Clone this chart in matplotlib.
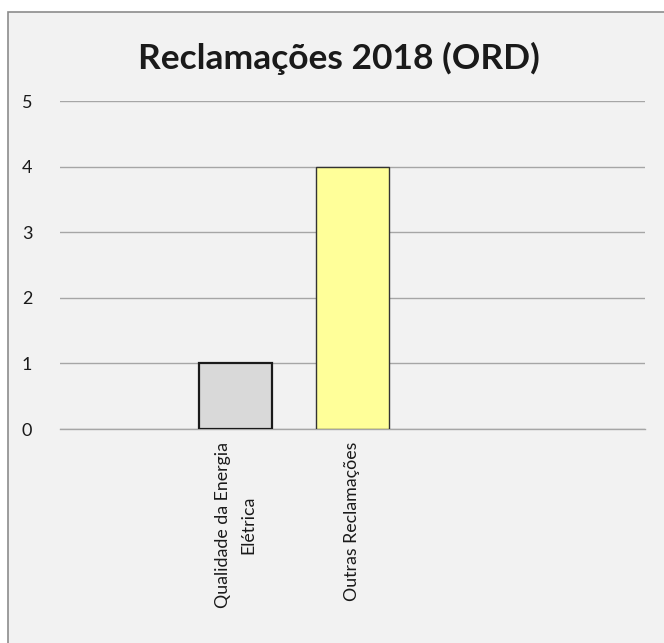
import matplotlib
matplotlib.use("Agg")
import matplotlib.pyplot as plt
from matplotlib.patches import Rectangle

categories = ["", "Qualidade da Energia\nElétrica", "Outras Reclamações", "", ""]
values = [0, 1, 4, 0, 0]
colors = ["#d9d9d9", "#d9d9d9", "#ffff99", "#d9d9d9", "#d9d9d9"]
edges = ["#1a1a1a", "#1a1a1a", "#333333", "#1a1a1a", "#1a1a1a"]
edge_w = [1.6, 1.6, 1.0, 1.6, 1.6]
yticks = [0, 1, 2, 3, 4, 5]
title = "Reclamações 2018 (ORD)"

plt.rcParams['font.family'] = ['Lato', 'DejaVu Sans']

W, H = 664, 643
fig = plt.figure(figsize=(W / 100, H / 100), dpi=100)
fig.patch.set_facecolor("white")
fig.patches.append(Rectangle((8 / W, -0.01), 1.0, 1 - 12 / H + 0.01,
                             transform=fig.transFigure, facecolor="#f2f2f2",
                             edgecolor="#8c8c8c", linewidth=1.2, zorder=-5))

ax = fig.add_axes([60 / W, 1 - 429 / H, 585 / W, (429 - 101) / H])
ax.set_zorder(2)
ax.set_facecolor("none")
x = list(range(len(categories)))
for i, (v, c, e, lw) in enumerate(zip(values, colors, edges, edge_w)):
    if v > 0:
        ax.bar(i, v, width=0.624, color=c, edgecolor=e, linewidth=lw, zorder=3)
ax.set_xlim(-0.5, len(categories) - 0.5)
ax.set_ylim(0, 5)
ax.set_yticks(yticks)
ax.set_yticklabels([str(t) for t in yticks], fontsize=13, color="#1a1a1a")
ax.set_xticks(x)
ax.set_xticklabels(categories, rotation=90, fontsize=12.8, color="#1a1a1a",
                   ha="center", va="top", multialignment="center",
                   linespacing=1.7)
ax.tick_params(axis="both", length=0)
ax.tick_params(axis="y", pad=20)
ax.tick_params(axis="x", pad=9)
ax.grid(axis="y", color="#a6a6a6", linewidth=1.0, zorder=0)
for s in ["top", "right", "left"]:
    ax.spines[s].set_visible(False)
ax.spines["bottom"].set_color("#a6a6a6")
ax.spines["bottom"].set_linewidth(1.0)

fig.text(0.51, 1 - 58 / H, title, ha="center", va="center",
         fontsize=25.5, fontweight="bold", color="#1a1a1a", zorder=5)

fig.savefig("out.png", dpi=100)
